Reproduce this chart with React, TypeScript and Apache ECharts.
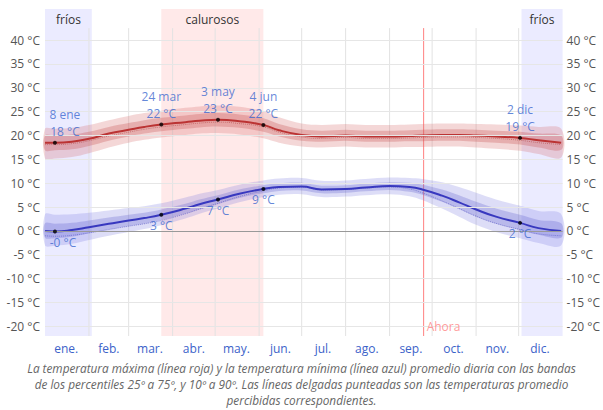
import React, { useEffect, useRef } from "react";
import * as echarts from "echarts";

// Day of year (0 = 1 Jan) of each sample
const days = [0, 7, 19, 31, 45, 59, 70, 82, 99, 109, 122, 137, 154, 165, 181, 195, 212, 226, 243, 257, 266, 280, 292, 304, 318, 335, 348, 364];

// Daily maximum (red)
const hiAvg = [18.5, 18.5, 18.7, 19.3, 20.4, 21.2, 21.8, 22.3, 22.8, 23.1, 23.3, 23.0, 22.2, 21.1, 20.1, 19.8, 20.0, 19.8, 19.8, 19.9, 20.0, 20.1, 20.1, 20.0, 19.8, 19.5, 19.0, 18.5];
const hiP25 = [16.9, 16.9, 17.1, 17.8, 18.9, 19.8, 20.4, 20.9, 21.4, 21.7, 21.9, 21.6, 20.8, 19.8, 18.9, 18.7, 18.9, 18.7, 18.7, 18.8, 18.8, 18.9, 18.9, 18.7, 18.5, 18.1, 17.5, 17.0];
const hiP75 = [20.0, 20.0, 20.2, 20.8, 21.8, 22.6, 23.2, 23.7, 24.2, 24.5, 24.7, 24.4, 23.6, 22.4, 21.3, 21.0, 21.2, 21.0, 21.0, 21.1, 21.2, 21.3, 21.3, 21.2, 21.0, 20.8, 20.4, 20.0];
const hiP10 = [15.2, 15.2, 15.5, 16.3, 17.5, 18.5, 19.1, 19.6, 20.1, 20.4, 20.5, 20.2, 19.4, 18.5, 17.7, 17.5, 17.7, 17.5, 17.5, 17.6, 17.6, 17.7, 17.7, 17.5, 17.2, 16.8, 16.1, 15.4];
const hiP90 = [21.4, 21.4, 21.6, 22.2, 23.2, 24.1, 24.7, 25.2, 25.8, 26.1, 26.3, 26.0, 25.1, 23.8, 22.5, 22.2, 22.4, 22.2, 22.2, 22.3, 22.4, 22.5, 22.5, 22.4, 22.3, 22.1, 21.8, 21.4];
const hiFeels = [18.1, 18.1, 18.3, 18.9, 19.9, 20.7, 21.3, 21.8, 22.3, 22.6, 22.8, 22.5, 21.8, 20.7, 19.7, 19.4, 19.6, 19.4, 19.4, 19.5, 19.6, 19.7, 19.7, 19.6, 19.4, 19.0, 18.5, 18.1];

// Daily minimum (blue)
const loAvg = [0.0, -0.1, 0.2, 0.8, 1.5, 2.2, 2.7, 3.4, 4.7, 5.6, 6.6, 7.8, 8.8, 9.2, 9.3, 8.7, 8.8, 9.1, 9.4, 9.2, 8.7, 7.4, 6.0, 4.5, 3.0, 1.7, 0.6, 0.0];
const loP25 = [-1.4, -1.5, -1.2, -0.5, 0.3, 1.0, 1.5, 2.3, 3.6, 4.5, 5.6, 6.9, 7.9, 8.4, 8.5, 7.9, 8.0, 8.3, 8.6, 8.2, 7.6, 6.1, 4.6, 3.0, 1.5, 0.2, -0.8, -1.4];
const loP75 = [1.6, 1.5, 1.7, 2.2, 2.8, 3.4, 3.8, 4.5, 5.7, 6.6, 7.5, 8.7, 9.6, 10.0, 10.1, 9.5, 9.6, 9.9, 10.2, 10.1, 9.7, 8.7, 7.5, 6.1, 4.7, 3.4, 2.3, 1.6];
const loP10 = [-3.0, -3.1, -2.7, -1.9, -1.0, -0.2, 0.4, 1.2, 2.6, 3.6, 4.7, 6.0, 7.1, 7.6, 7.7, 7.1, 7.2, 7.5, 7.7, 7.3, 6.5, 4.7, 3.0, 1.3, -0.2, -1.5, -2.5, -3.0];
const loP90 = [3.5, 3.4, 3.5, 3.8, 4.3, 4.8, 5.2, 5.8, 7.0, 7.8, 8.6, 9.7, 10.6, 11.0, 11.1, 10.5, 10.6, 10.9, 11.2, 11.1, 10.9, 10.2, 9.2, 8.0, 6.6, 5.3, 4.2, 3.5];
const loFeels = [-1.0, -1.1, -0.9, -0.4, 0.3, 1.0, 1.5, 2.2, 3.6, 4.6, 5.8, 7.2, 8.4, 9.0, 9.2, 8.6, 8.7, 9.0, 9.2, 8.8, 8.0, 6.3, 4.7, 3.1, 1.6, 0.3, -0.6, -1.0];

// Annotated points
const hiMarkDays = [7, 82, 122, 154, 335];
const hiMarkValues = [18.5, 22.3, 23.3, 22.2, 19.5];
const hiMarkDates = ["8 ene", "24 mar", "3 may", "4 jun", "2 dic"];
const hiMarkTemps = ["18", "22", "23", "22", "19"];
const loMarkDays = [7, 82, 122, 154, 335];
const loMarkValues = [-0.1, 3.4, 6.6, 8.8, 1.7];
const loMarkTemps = ["-0", "3", "7", "9", "2"];

// Axes
const monthStarts = [31, 59, 90, 120, 151, 181, 212, 243, 273, 304, 334];
const monthMids = [15, 45, 74, 105, 135, 166, 196, 227, 258, 288, 319, 349];
const monthNames = ["ene.", "feb.", "mar.", "abr.", "may.", "jun.", "jul.", "ago.", "sep.", "oct.", "nov.", "dic."];
const yTicks = [-20, -15, -10, -5, 0, 5, 10, 15, 20, 25, 30, 35, 40];

// Seasons
const seasonNames = ["fríos", "calurosos", "fríos"];
const seasonStart = [0, 82, 336];
const seasonEnd = [33, 154, 365];
const nowDay = 267;

const Y_MIN = -22;
const Y_MAX = 46.5;
const GRID_TOP_VAL = 42.5;

const caption =
  "La temperatura máxima (línea roja) y la temperatura mínima (línea azul) promedio diaria con las bandas\n" +
  "de los percentiles 25º a 75º, y 10º a 90º. Las líneas delgadas punteadas son las temperaturas promedio\n" +
  "percibidas correspondientes.";

const FONT = "'Open Sans', 'Noto Sans', sans-serif";
const LABEL_BLUE = "#3b68cf";

function bandSeries(lower: number[], upper: number[], color: string, z: number) {
  return {
    type: "custom",
    z,
    silent: true,
    data: days.map((d, i) => [d, lower[i], upper[i]]),
    encode: { x: 0, y: [1, 2] },
    renderItem: (params: any, api: any) => {
      if (params.dataIndex !== 0) return null;
      const top = days.map((d, i) => api.coord([d, upper[i]]));
      const bot = days.map((d, i) => api.coord([d, lower[i]])).reverse();
      return {
        type: "polygon",
        shape: { points: top.concat(bot), smooth: 0.35 },
        style: { fill: color },
      };
    },
  };
}

function vLineSeries(xs: number[], color: string, z: number) {
  return {
    type: "custom",
    z,
    silent: true,
    data: xs.map((d) => [d, Y_MIN, GRID_TOP_VAL]),
    encode: { x: 0, y: [1, 2] },
    renderItem: (params: any, api: any) => {
      const a = api.coord([api.value(0), Y_MIN]);
      const b = api.coord([api.value(0), GRID_TOP_VAL]);
      return {
        type: "line",
        shape: { x1: a[0], y1: a[1], x2: b[0], y2: b[1] },
        style: { stroke: color, lineWidth: 1 },
      };
    },
  };
}

function lineSeries(values: number[], color: string, width: number, dotted: boolean, z: number) {
  return {
    type: "line",
    z,
    silent: true,
    smooth: true,
    symbol: "none",
    data: days.map((d, i) => [d, values[i]]),
    lineStyle: { color, width, type: dotted ? "dotted" : "solid" },
  };
}

export default function App() {
  const ref = useRef<HTMLDivElement>(null);
  useEffect(() => {
    if (!ref.current) return;
    const chart = echarts.init(ref.current, undefined, { renderer: "svg" });

    const yAxisCommon = {
      type: "value",
      min: Y_MIN,
      max: Y_MAX,
      splitLine: { show: false },
      axisLine: { show: false },
      axisTick: { show: false },
      axisLabel: {
        customValues: yTicks,
        formatter: (v: number) => `${v} °C`,
        color: "#555",
        fontSize: 12,
        fontFamily: FONT,
      },
    };

    chart.setOption({
      animation: false,
      textStyle: { fontFamily: FONT },
      grid: { left: 45, right: 40, top: 9, bottom: 74 },
      xAxis: {
        type: "value",
        min: 0,
        max: 365,
        splitLine: { show: false },
        axisLine: { show: false },
        axisTick: { show: false },
        axisLabel: {
          customValues: monthMids,
          formatter: (v: number) => monthNames[monthMids.indexOf(v)] ?? "",
          color: "#3b62c9",
          fontSize: 12,
          margin: 6,
          fontFamily: FONT,
        },
      },
      yAxis: [
        { ...yAxisCommon, position: "left", axisLabel: { ...yAxisCommon.axisLabel, margin: 5 } },
        { ...yAxisCommon, position: "right", axisLabel: { ...yAxisCommon.axisLabel, margin: 4 } },
      ],
      graphic: [
        {
          type: "text",
          x: 301.5,
          y: 360,
          silent: true,
          style: {
            text: caption,
            fill: "#666",
            font: `italic 11.8px ${FONT}`,
            lineHeight: 16,
            align: "center",
            verticalAlign: "top",
          },
        },
      ],
      series: [
        // background: seasons + horizontal grid lines
        {
          type: "line",
          z: 0,
          silent: true,
          data: [],
          markArea: {
            silent: true,
            label: {
              show: true,
              position: "insideTop",
              distance: 4,
              color: "#333",
              fontSize: 12,
              fontFamily: FONT,
            },
            data: seasonNames.map((n, i) => [
              {
                name: n,
                coord: [seasonStart[i], Y_MIN],
                itemStyle: {
                  color: n === "calurosos" ? "rgba(255,110,110,0.15)" : "rgba(120,120,255,0.15)",
                },
              },
              { coord: [seasonEnd[i], Y_MAX] },
            ]),
          },
          markLine: {
            silent: true,
            symbol: ["none", "none"],
            label: { show: false },
            data: yTicks.map((v) => ({
              yAxis: v,
              lineStyle: { color: v === 0 ? "#999" : "#e6e6e6", width: 1, type: "solid" },
            })),
          },
        },
        // vertical month lines and "now" line
        vLineSeries(monthStarts, "#e2e2e2", 1),
        vLineSeries([nowDay], "#ff8080", 1),
        // red bands
        bandSeries(hiP10, hiP90, "rgba(215,110,110,0.28)", 2),
        bandSeries(hiP25, hiP75, "rgba(200,80,80,0.30)", 2),
        // blue bands
        bandSeries(loP10, loP90, "rgba(120,120,225,0.25)", 2),
        bandSeries(loP25, loP75, "rgba(95,95,205,0.28)", 2),
        // feels-like dotted
        lineSeries(hiFeels, "rgba(175,60,60,0.5)", 1, true, 3),
        lineSeries(loFeels, "rgba(70,70,190,0.5)", 1, true, 3),
        // averages
        lineSeries(hiAvg, "#bb3333", 2, false, 4),
        lineSeries(loAvg, "#3838bf", 2, false, 4),
        // annotation points high
        {
          type: "scatter",
          z: 5,
          silent: true,
          symbolSize: 4,
          itemStyle: { color: "#000" },
          data: hiMarkDays.map((d, i) => [d, hiMarkValues[i]]),
          label: {
            show: true,
            position: "top",
            distance: 1,
            color: LABEL_BLUE,
            fontSize: 12,
            lineHeight: 17,
            fontFamily: FONT,
            align: "center",
            formatter: (p: any) => `${hiMarkDates[p.dataIndex]}\n${hiMarkTemps[p.dataIndex]} °C`,
          },
          labelLayout: (p: any) => (p.dataIndex === 0 ? { dx: 10 } : {}),
        },
        // annotation points low
        {
          type: "scatter",
          z: 5,
          silent: true,
          symbolSize: 4,
          itemStyle: { color: "#000" },
          data: loMarkDays.map((d, i) => [d, loMarkValues[i]]),
          label: {
            show: true,
            position: "bottom",
            distance: 3,
            color: LABEL_BLUE,
            fontSize: 12,
            fontFamily: FONT,
            formatter: (p: any) => `${loMarkTemps[p.dataIndex]} °C`,
          },
          labelLayout: (p: any) => (p.dataIndex === 0 ? { dx: 8 } : {}),
        },
        // "Ahora" label
        {
          type: "scatter",
          z: 5,
          silent: true,
          symbolSize: 0,
          data: [[nowDay, -20]],
          label: {
            show: true,
            position: "right",
            distance: 3,
            color: "#ff7f7f",
            fontSize: 12,
            fontFamily: FONT,
            formatter: "Ahora",
          },
        },
      ],
    });
    return () => chart.dispose();
  }, []);
  return (
    <div
      ref={ref}
      style={{ position: "fixed", left: 0, top: 0, width: 603, height: 410, background: "#fff" }}
    />
  );
}
